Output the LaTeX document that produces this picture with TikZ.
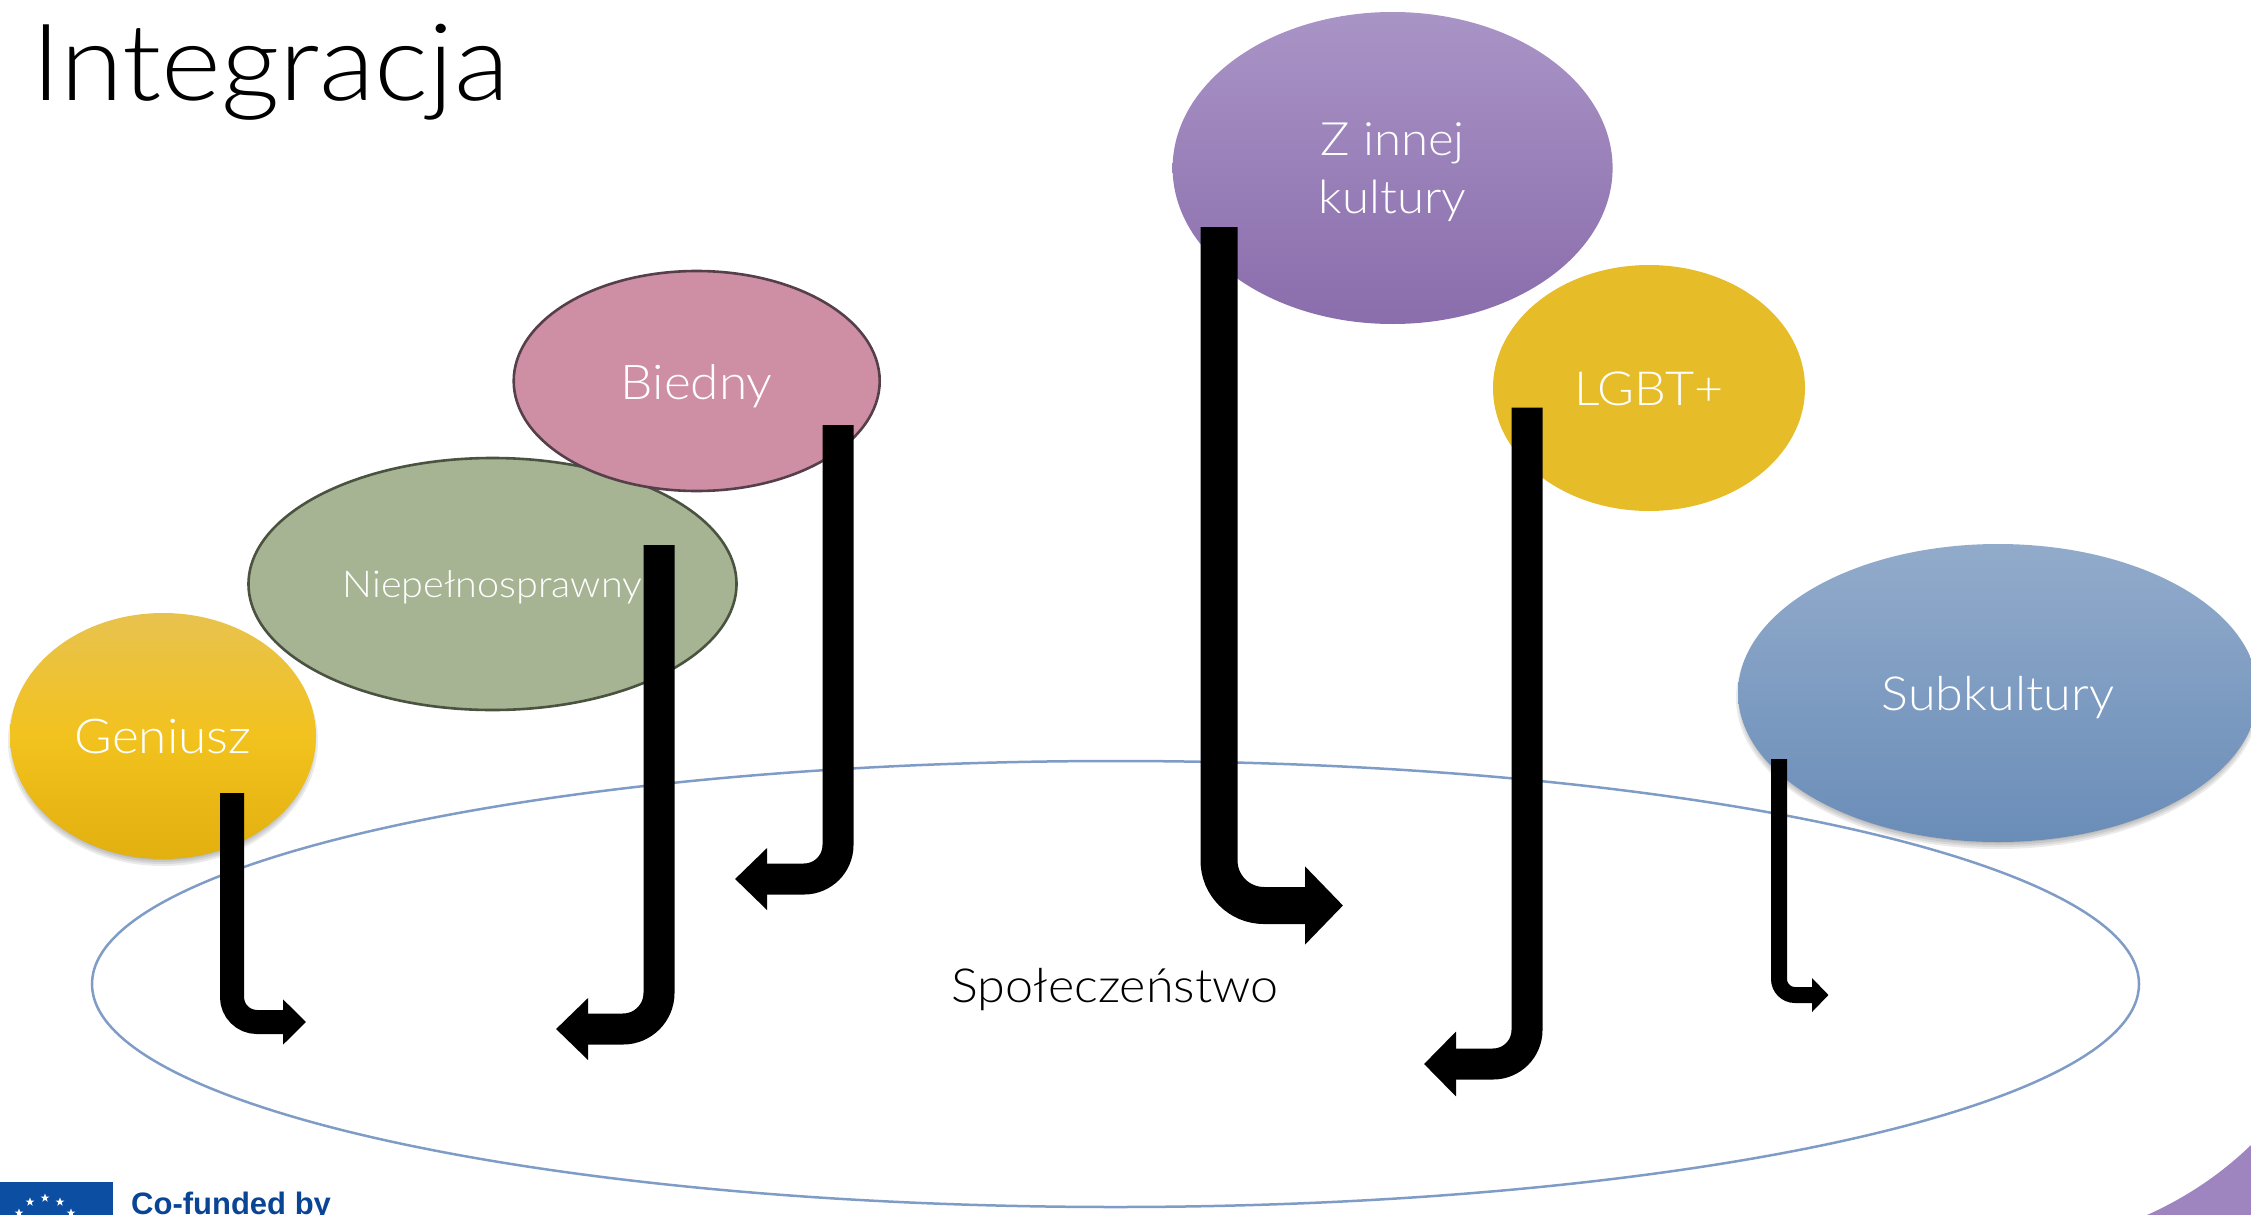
\documentclass[tikz,border=0pt]{standalone}
\usepackage{fontspec}
\setmainfont{Lato Light}[BoldFont=Lato Light,FakeStretch=1.07]
\newfontfamily\logofont{Liberation Sans}
\usetikzlibrary{arrows.meta,shapes.geometric}
\definecolor{socline}{HTML}{7F9CC6}
\definecolor{euflag}{HTML}{0B4EA2}
\definecolor{eutext}{HTML}{0A4595}
\definecolor{cornerpurple}{HTML}{9E85BF}
\definecolor{genA}{HTML}{E8C24F}
\definecolor{genB}{HTML}{F2C21E}
\definecolor{genC}{HTML}{E2B00F}
\definecolor{purA}{HTML}{A994C6}
\definecolor{purB}{HTML}{8A6DAC}
\definecolor{subA}{HTML}{92ABCB}
\definecolor{subB}{HTML}{6A8DB8}
\definecolor{lgbtfill}{HTML}{E6BD28}
\definecolor{biedfill}{HTML}{CE8FA5}
\definecolor{biedline}{HTML}{553F4A}
\definecolor{niepfill}{HTML}{A6B493}
\definecolor{niepline}{HTML}{4A5240}
\tikzset{
  blob/.style={ellipse,inner sep=0pt,text=white,font=\fontsize{47}{58}\selectfont,text height=34pt,text depth=0pt},
  hook/.style={draw=black,line cap=butt},
  eustar/.style={star,star points=5,star point ratio=2.5,fill=white,minimum size=9pt,inner sep=0pt},
}
\newcommand{\softshadow}[4]{%
  \foreach \g in {0,2,...,8}{\fill[black,opacity=.08] (#1,#2+5) ellipse ({(#3-6+\g)*1pt} and {(#4-6+\g)*1pt});}}
\begin{document}
\begin{tikzpicture}[x=1pt,y=-1pt]
\useasboundingbox (0,0) rectangle (2251,1215);
% logo and corner
\fill[cornerpurple] (2147,1215) .. controls (2185,1198) and (2220,1175) .. (2251,1145) -- (2251,1215) -- cycle;
\fill[euflag] (0,1181.5) rectangle (113,1215);
\foreach \n/\p in {a/{(30,1202)},b/{(45,1198)},c/{(60,1202)},d/{(19,1213)},e/{(71,1213)}}
  \node[eustar] (star\n) at \p {};
\node[anchor=base west,inner sep=0pt,text=eutext,font=\logofont\bfseries\fontsize{31}{31}\selectfont] (cofund) at (131,1214) {Co-funded by};
% title
\node[anchor=base west,inner sep=0pt,font=\fontsize{107}{110}\selectfont] (title) at (31,100) {Integracja};
% ovals
\softshadow{163}{736}{153}{123}
\node[blob,minimum width=306,minimum height=246,top color=genA,bottom color=genC,middle color=genB,font=\fontsize{48}{58}\selectfont] (gen) at (163,736) {Geniusz};
\node[blob,minimum width=488,minimum height=252,fill=niepfill,draw=niepline,line width=2.6pt,font=\fontsize{37}{46}\selectfont,text height=26pt] (niep) at (492.5,584) {Niepełnosprawny};
\node[blob,minimum width=366,minimum height=220,fill=biedfill,draw=biedline,line width=2.6pt,font=\fontsize{48}{58}\selectfont,text height=36pt] (bied) at (696.7,381) {Biedny};
\node[blob,minimum width=440,minimum height=312,top color=purA,bottom color=purB,align=center,text height=,font=\fontsize{46}{58}\selectfont] (zinn) at (1392.6,168) {Z innej\\kultury};
\node[blob,minimum width=312,minimum height=246,fill=lgbtfill] (lgbt) at (1649,388) {LGBT+};
\softshadow{1998}{693}{260}{149}
\node[blob,minimum width=520,minimum height=298,top color=subA,bottom color=subB] (subk) at (1998,693) {Subkultury};
% society
\node[ellipse,draw=socline,line width=2.5pt,minimum width=2047,minimum height=446,inner sep=0pt] (soc) at (1115.5,984) {};
\node[inner sep=0pt,font=\fontsize{47}{58}\selectfont,text=black,text height=36pt,text depth=0pt] (soclabel) at (1115,984) {Społeczeństwo};
% hooks
\coordinate (gs) at (232,793);      \coordinate (ge) at (306,1022);
\coordinate (ns) at (659,545);      \coordinate (ne) at (556,1029);
\coordinate (bs) at (838,425);      \coordinate (be) at (735,879);
\coordinate (zs) at (1219,227);     \coordinate (ze) at (1343,905.5);
\coordinate (ls) at (1527,407.5);   \coordinate (le) at (1424,1064);
\coordinate (ss) at (1779,759);     \coordinate (se) at (1828.5,995);
\draw[hook,line width=24pt,rounded corners=25pt,-{Triangle[length=23pt,width=44pt,sep=0pt]}] (gs) |- (ge);
\draw[hook,line width=31pt,rounded corners=36pt,-{Triangle[length=32pt,width=60pt,sep=0pt]}] (ns) |- (ne);
\draw[hook,line width=31pt,rounded corners=34pt,-{Triangle[length=32pt,width=60pt,sep=0pt]}] (bs) |- (be);
\draw[hook,line width=37pt,rounded corners=45pt,-{Triangle[length=38pt,width=76pt,sep=0pt]}] (zs) |- (ze);
\draw[hook,line width=31pt,rounded corners=34pt,-{Triangle[length=32pt,width=63pt,sep=0pt]}] (ls) |- (le);
\draw[hook,line width=16pt,rounded corners=16pt,-{Triangle[length=16.5pt,width=33pt,sep=0pt]}] (ss) |- (se);
\end{tikzpicture}
\end{document}
